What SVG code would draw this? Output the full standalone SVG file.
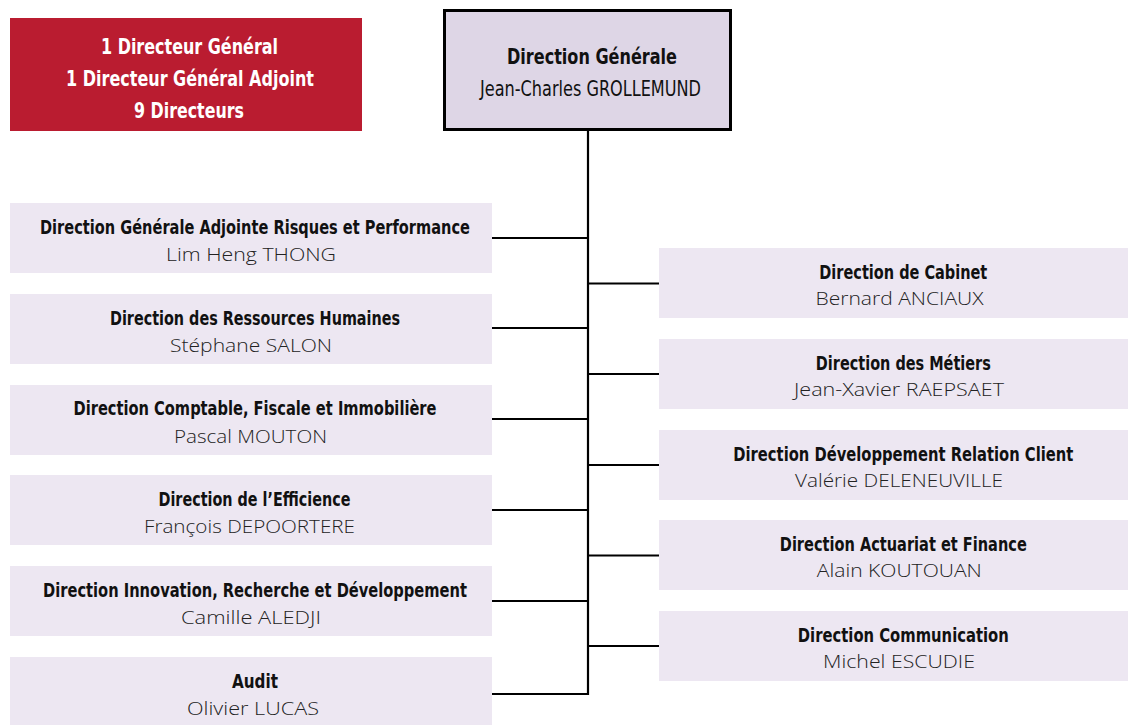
<svg xmlns="http://www.w3.org/2000/svg" width="1128" height="725" viewBox="0 0 1128 725">
<style>
.bg{fill:#ffffff}
.box{fill:#EDE7F2}
.red{fill:#BA1C30}
.top{fill:#DED6E6;stroke:#000;stroke-width:3}
.t{font-family:"Liberation Sans Narrow","DejaVu Sans Condensed","Liberation Sans",sans-serif;font-weight:bold;font-size:19.5px;fill:#111;text-anchor:middle}
.n{font-family:"Open Sans","Noto Sans","Liberation Sans",sans-serif;font-weight:300;font-size:18px;fill:#222;text-anchor:middle}
.w{font-family:"Liberation Sans Narrow","DejaVu Sans Condensed","Liberation Sans",sans-serif;font-weight:bold;font-size:22px;fill:#ffffff;text-anchor:middle}
.tn{font-family:"Liberation Sans Narrow","DejaVu Sans Condensed","Liberation Sans",sans-serif;font-weight:400;font-size:21px;fill:#111;text-anchor:middle}
.c{fill:none;stroke:#000;stroke-width:2.2}
</style>
<rect class="bg" x="0" y="0" width="1128" height="725"/>

<g id="connectors">
<path class="c" d="M588 131 V695"/>
<path class="c" d="M492 238 H588 M492 328 H588 M492 419 H588 M492 510 H588 M492 601 H588 M492 694 H589"/>
<path class="c" d="M588 283.5 H659 M588 374 H659 M588 465 H659 M588 555.5 H659 M588 646 H659"/>
</g>

<g id="summary">
<rect class="red" x="10" y="18" width="352" height="113"/>
<text class="w" x="189.5" y="53.5" textLength="177" lengthAdjust="spacingAndGlyphs">1 Directeur Général</text>
<text class="w" x="190" y="85.5" textLength="248" lengthAdjust="spacingAndGlyphs">1 Directeur Général Adjoint</text>
<text class="w" x="189" y="117.5" textLength="110" lengthAdjust="spacingAndGlyphs">9 Directeurs</text>
</g>

<g id="direction-generale">
<rect class="top" x="444.5" y="10.5" width="286" height="119"/>
<text class="t" x="592" y="64" style="font-size:20.5px" textLength="170" lengthAdjust="spacingAndGlyphs">Direction Générale</text>
<text class="tn" x="590.5" y="95.5" textLength="221" lengthAdjust="spacingAndGlyphs">Jean-Charles GROLLEMUND</text>
</g>

<g id="dga-risques">
<rect class="box" x="10" y="203" width="482" height="70"/>
<text class="t" x="255" y="234" textLength="430" lengthAdjust="spacingAndGlyphs">Direction Générale Adjointe Risques et Performance</text>
<text class="n" x="251" y="260.5" textLength="170" lengthAdjust="spacingAndGlyphs">Lim Heng THONG</text>
</g>

<g id="drh">
<rect class="box" x="10" y="294" width="482" height="70"/>
<text class="t" x="255" y="325" textLength="290" lengthAdjust="spacingAndGlyphs">Direction des Ressources Humaines</text>
<text class="n" x="251" y="351.5" textLength="162" lengthAdjust="spacingAndGlyphs">Stéphane SALON</text>
</g>

<g id="comptable">
<rect class="box" x="10" y="385" width="482" height="70"/>
<text class="t" x="255" y="415" textLength="363" lengthAdjust="spacingAndGlyphs">Direction Comptable, Fiscale et Immobilière</text>
<text class="n" x="250.5" y="442.5" textLength="153" lengthAdjust="spacingAndGlyphs">Pascal MOUTON</text>
</g>

<g id="efficience">
<rect class="box" x="10" y="475" width="482" height="70"/>
<text class="t" x="254.5" y="506" textLength="192" lengthAdjust="spacingAndGlyphs">Direction de l’Efficience</text>
<text class="n" x="249.5" y="532.5" textLength="211" lengthAdjust="spacingAndGlyphs">François DEPOORTERE</text>
</g>

<g id="innovation">
<rect class="box" x="10" y="566" width="482" height="70"/>
<text class="t" x="255" y="597" textLength="424" lengthAdjust="spacingAndGlyphs">Direction Innovation, Recherche et Développement</text>
<text class="n" x="251" y="623.5" textLength="140" lengthAdjust="spacingAndGlyphs">Camille ALEDJI</text>
</g>

<g id="audit">
<rect class="box" x="10" y="657" width="482" height="68"/>
<text class="t" x="255" y="688" textLength="46" lengthAdjust="spacingAndGlyphs">Audit</text>
<text class="n" x="253" y="714.5" textLength="132" lengthAdjust="spacingAndGlyphs">Olivier LUCAS</text>
</g>

<g id="cabinet">
<rect class="box" x="659" y="248" width="469" height="70"/>
<text class="t" x="903.3" y="279" textLength="168" lengthAdjust="spacingAndGlyphs">Direction de Cabinet</text>
<text class="n" x="899.5" y="305" textLength="168" lengthAdjust="spacingAndGlyphs">Bernard ANCIAUX</text>
</g>

<g id="metiers">
<rect class="box" x="659" y="339" width="469" height="70"/>
<text class="t" x="903.3" y="370" textLength="175" lengthAdjust="spacingAndGlyphs">Direction des Métiers</text>
<text class="n" x="899" y="396" textLength="210" lengthAdjust="spacingAndGlyphs">Jean-Xavier RAEPSAET</text>
</g>

<g id="relation-client">
<rect class="box" x="659" y="430" width="469" height="70"/>
<text class="t" x="903.3" y="461" textLength="340" lengthAdjust="spacingAndGlyphs">Direction Développement Relation Client</text>
<text class="n" x="899" y="487" textLength="208" lengthAdjust="spacingAndGlyphs">Valérie DELENEUVILLE</text>
</g>

<g id="actuariat">
<rect class="box" x="659" y="520" width="469" height="70"/>
<text class="t" x="903.3" y="551" textLength="247" lengthAdjust="spacingAndGlyphs">Direction Actuariat et Finance</text>
<text class="n" x="899.3" y="577" textLength="165" lengthAdjust="spacingAndGlyphs">Alain KOUTOUAN</text>
</g>

<g id="communication">
<rect class="box" x="659" y="611" width="469" height="70"/>
<text class="t" x="903.3" y="642" textLength="211" lengthAdjust="spacingAndGlyphs">Direction Communication</text>
<text class="n" x="899" y="668" textLength="152" lengthAdjust="spacingAndGlyphs">Michel ESCUDIE</text>
</g>
</svg>
